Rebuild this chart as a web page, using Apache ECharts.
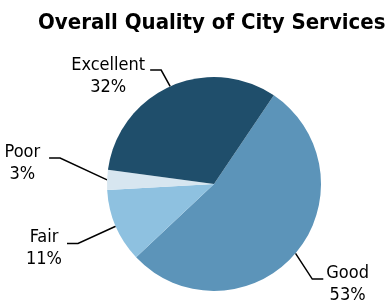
<!DOCTYPE html>
<html>
<head>
<meta charset="utf-8">
<script src="https://cdn.jsdelivr.net/npm/echarts@6/dist/echarts.min.js"></script>
<style>
  html, body { margin: 0; padding: 0; background: #fff; }
  #chart { width: 386px; height: 304px; }
</style>
</head>
<body>
<div id="chart"></div>
<script>
// 城市服务质量
const categories = ['Good', 'Fair', 'Poor', 'Excellent'];
const values = [53, 11, 3, 32];
const colors = ['#5C94B9', '#8EC1E0', '#D7E6F0', '#1F4E6B'];
// 标签偏移 / 引导线拐点偏移
const labelShift = [[-2, 16.5], [-17.5, 13.5], [-29, -16], [0, 10]];
const elbowShift = [[0, 11.5], [-17.5, 8.5], [-25, -21], [0, 3.7]];
const FONT = '"DejaVu Sans Condensed", "Liberation Sans", sans-serif';

const chart = echarts.init(document.getElementById('chart'));

const option = {
    animation: false,
    title: {
        text: 'Overall Quality of City Services',
        left: 33,
        top: 7,
        textStyle: {
            fontFamily: FONT,
            fontSize: 22,
            fontWeight: 'bold',
            color: '#000'
        }
    },
    series: [
        {
            type: 'pie',
            center: [214, 184],
            radius: 107,
            startAngle: 56,
            clockwise: true,
            avoidLabelOverlap: false,
            data: categories.map((name, i) => ({
                name: name,
                value: values[i],
                itemStyle: { color: colors[i] }
            })),
            label: {
                show: true,
                formatter: '{t|{b}}\n{t|{c}%}',
                color: '#000',
                rich: {
                    t: {
                        fontFamily: FONT,
                        fontSize: 18,
                        lineHeight: 22,
                        align: 'center',
                        color: '#000'
                    }
                }
            },
            labelLine: {
                show: true,
                length: 22,
                length2: 11,
                lineStyle: { color: '#000', width: 1.5 }
            },
            labelLayout: function (params) {
                const i = params.dataIndex;
                const s = labelShift[i];
                const e = elbowShift[i];
                const pts = params.labelLinePoints;
                let out = { dx: s[0], dy: s[1] };
                if (pts) {
                    out.labelLinePoints = [
                        pts[0],
                        [pts[1][0] + e[0], pts[1][1] + e[1]],
                        [pts[2][0] + e[0], pts[2][1] + e[1]]
                    ];
                }
                return out;
            }
        }
    ]
};
chart.setOption(option);
</script>
</body>
</html>
